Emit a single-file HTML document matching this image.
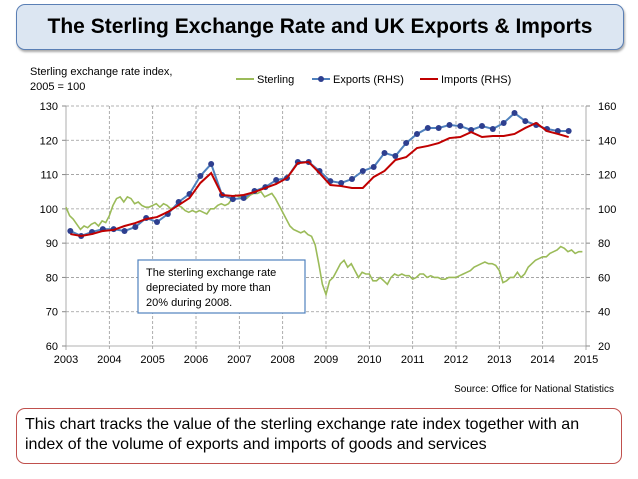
<!DOCTYPE html>
<html><head><meta charset="utf-8"><style>
body{margin:0;background:#fff;width:638px;height:479px;overflow:hidden;font-family:"Liberation Sans",sans-serif;position:relative}
#title{position:absolute;left:16px;top:4px;width:606px;height:44px;border:1.5px solid #5a7fb5;border-radius:9px;background:#dce6f2;font-weight:bold;font-size:21px;text-align:center;line-height:44px;color:#000;box-shadow:1px 2px 2px #aaa}
#bottom{position:absolute;left:16px;top:408px;height:56px;border:1.5px solid #c0504d;border-radius:9px;font-size:16px;line-height:20px;padding:6px 4px 0 8px;box-sizing:border-box;width:606px;color:#000}
</style></head><body>
<div id="title">The Sterling Exchange Rate and UK Exports &amp; Imports</div>
<svg id="chart" width="638" height="400" style="position:absolute;left:0;top:0"></svg>
<div id="bottom">This chart tracks the value of the sterling exchange rate index together with an index of the volume of exports and imports of goods and services</div>
<script>
const years=[2003,2004,2005,2006,2007,2008,2009,2010,2011,2012,2013,2014,2015];
const leftTicks=[60,70,80,90,100,110,120,130];
const rightTicks=[20,40,60,80,100,120,140,160];
const sterling=[100.5,98,97,95.5,94,95,94.5,95.5,96,95,96.5,96,
98,101,103,103.5,102,103.5,103,101.5,102,101,100.5,100.5,
101,101.5,100.5,101.5,101,100,100.5,101,100.5,99.5,99,99.5,
99,99.5,99,98.5,100,100,101,101.5,101,101.5,103,104,
103.5,104,103,104,104.5,104.5,105,103.5,104,104.5,103,101,
99,97,95,94,93.5,93,93.5,92.5,92,89.5,84,78,
75,79,80,82,84,85,83,84,82,80,81.5,81,
81,79,79,80,79,78,80,81,80.5,81,80.5,80.5,
79.5,80,81,81,80,80.5,80,80,79.5,79.5,80,80,
80,80.5,81,81.5,82,83,83.5,84,84.5,84,84,83.5,
82,78.5,79,80,80,81.5,80,81,83,84,85,85.5,
86,86,87,87.5,88,89,88.5,87.5,88,87,87.5,87.5];
const exportsRHS=[87.1,84.2,86.5,88.2,88.2,87.1,89.4,94.7,92.3,97.0,104.0,108.7,119.2,126.2,108.1,105.7,106.3,110.4,112.7,116.8,118.0,127.3,127.3,122.1,116.2,115.1,117.4,122.1,124.4,132.6,130.8,138.4,143.7,147.2,147.2,148.9,148.3,146.0,148.3,146.6,150.1,155.9,151.2,148.9,146.6,145.4,145.4];
const importsRHS=[85.3,84.2,85.3,87.1,87.7,90.0,91.7,94.1,95.2,98.2,102.2,106.3,115.1,120.9,108.1,107.5,108.1,109.8,112.2,114.5,118.0,126.7,127.3,120.9,113.9,113.3,112.2,112.2,118.6,122.1,128.5,130.2,135.5,136.7,138.4,141.3,141.9,144.8,141.9,142.5,142.5,143.7,147.2,150.1,145.4,143.7,141.9];
const X0=66,X1=586,Y0=346,Y1=106;
const xs=t=>X0+(t-2003)/12*(X1-X0);
const yl=v=>Y0-(v-60)/70*(Y0-Y1);
const yr=v=>Y0-(v-20)/140*(Y0-Y1);
const svg=document.getElementById('chart');const NS='http://www.w3.org/2000/svg';
function mk(tag,at,parent){const e=document.createElementNS(NS,tag);for(const k in at)e.setAttribute(k,at[k]);(parent||svg).appendChild(e);return e;}
function txt(x,y,s,anchor,size,fill){const t=mk('text',{x:x,y:y,'text-anchor':anchor||'start','font-size':size||11,fill:fill||'#000','font-family':'Liberation Sans, sans-serif'});t.textContent=s;return t;}
leftTicks.forEach((v,i)=>{const y=yl(v);
 const g=mk('line',{x1:X0,x2:X1,y1:y,y2:y,stroke:'#999','stroke-width':0.8,'stroke-dasharray':v==60?'':'3,2'});
 
 
 const t=txt(X0-8,y+4,String(v),'end',11);
 
 
 mk('line',{x1:X0-4,x2:X0,y1:y,y2:y,stroke:'#888'});
});
rightTicks.forEach(v=>{const y=yr(v);
 const t=txt(X1+12,y+4,String(v),'start',11);
 
 
 mk('line',{x1:X1,x2:X1+4,y1:y,y2:y,stroke:'#888'});
});
years.forEach(yv=>{const x=xs(yv);
 const g=mk('line',{x1:x,x2:x,y1:Y1,y2:Y0+4,stroke:'#999','stroke-width':0.8,'stroke-dasharray':(yv==2003||yv==2015)?'':'3,2'});
 
 
 const t=txt(x,Y0+17,String(yv),'middle',11);
 
 
});
const sp=sterling.map((v,i)=>xs(2003+i/12)+','+yl(v)).join(' ');
const sl=mk('polyline',{points:sp,fill:'none',stroke:'#9bbb59','stroke-width':1.6});


const ep=exportsRHS.map((v,i)=>xs(2003.1+0.25*i)+','+yr(v)).join(' ');
const el=mk('polyline',{points:ep,fill:'none',stroke:'#4f81bd','stroke-width':2});


exportsRHS.forEach((v,i)=>{const c=mk('circle',{cx:xs(2003.1+0.25*i),cy:yr(v),r:3,fill:'#2e3f8f'});
 
 });
const ip=importsRHS.map((v,i)=>xs(2003.1+0.25*i)+','+yr(v)).join(' ');
const il=mk('polyline',{points:ip,fill:'none',stroke:'#c00000','stroke-width':2});


let t=txt(30,75,'Sterling exchange rate index,','start',11);


t=txt(30,90,'2005 = 100','start',11);


mk('line',{x1:236,x2:254,y1:79,y2:79,stroke:'#9bbb59','stroke-width':2});
t=txt(257,83,'Sterling','start',11);


mk('line',{x1:312,x2:330,y1:79,y2:79,stroke:'#4f81bd','stroke-width':2});
mk('circle',{cx:321,cy:79,r:3,fill:'#2e3f8f'});
t=txt(333,83,'Exports (RHS)','start',11);


mk('line',{x1:420,x2:438,y1:79,y2:79,stroke:'#c00000','stroke-width':2});
t=txt(441,83,'Imports (RHS)','start',11);


const r=mk('rect',{x:138,y:260,width:167,height:53,fill:'#fff',stroke:'#4f81bd','stroke-width':1.2});


['The sterling exchange rate','depreciated by more than','20% during 2008.'].forEach((s,i)=>{const a=txt(146,276+i*15,s,'start',11);
 
 });
t=txt(614,392,'Source: Office for National Statistics','end',10);


</script>
</body></html>
